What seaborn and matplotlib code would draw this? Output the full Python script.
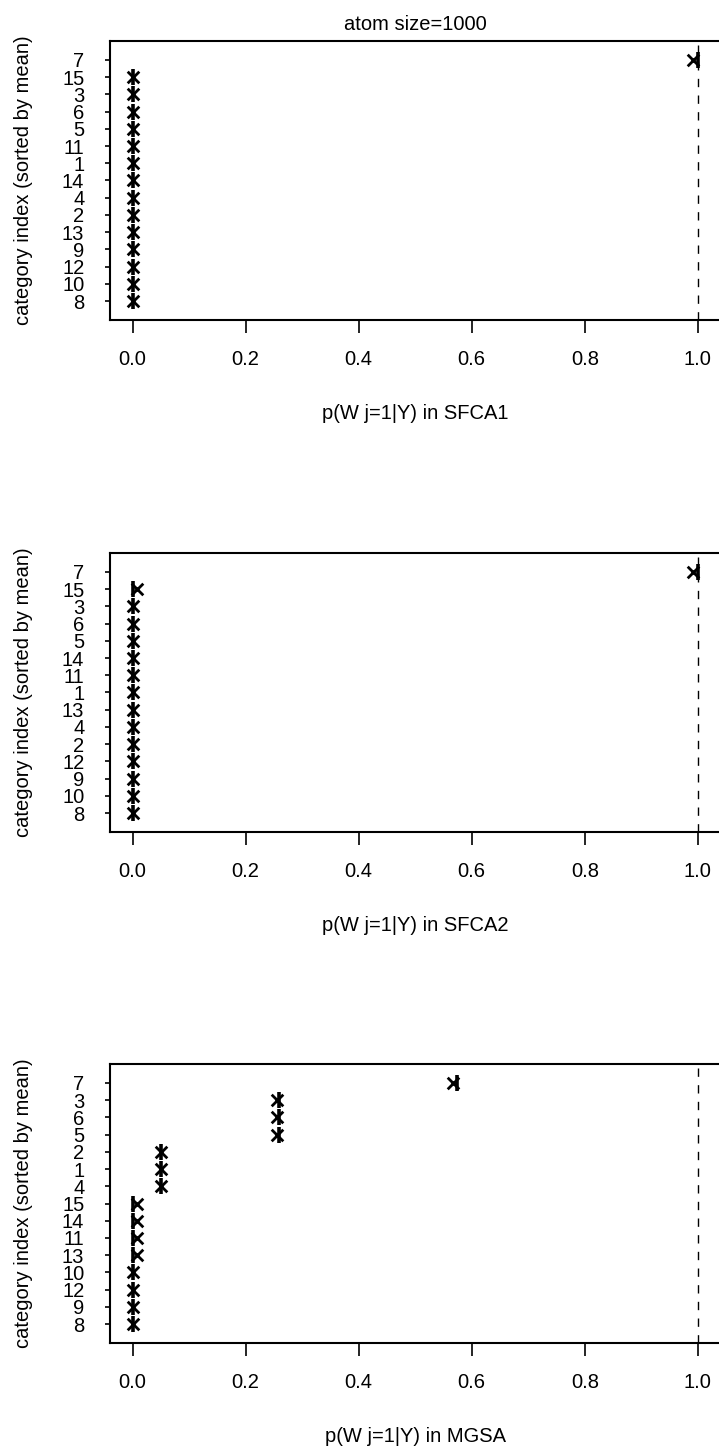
import matplotlib
matplotlib.use("Agg")
import matplotlib.pyplot as plt
import seaborn as sns
import pandas as pd

sns.set_theme(style="white")
plt.rcParams["font.family"] = ["Liberation Sans", "DejaVu Sans"]
plt.rcParams["font.size"] = 14.5

# Category order for each method, listed bottom -> top (sorted by mean)
sfca1_cats = [8, 10, 12, 9, 13, 2, 4, 14, 1, 11, 5, 6, 3, 15, 7]
sfca1_bar = [0, 0, 0, 0, 0, 0, 0, 0, 0, 0, 0, 0, 0, 0, 1.0]
sfca1_mean = [0, 0, 0, 0, 0, 0, 0, 0, 0, 0, 0, 0, 0, 0, 0.991]

sfca2_cats = [8, 10, 9, 12, 2, 4, 13, 1, 11, 14, 5, 6, 3, 15, 7]
sfca2_bar = [0, 0, 0, 0, 0, 0, 0, 0, 0, 0, 0, 0, 0, 0, 1.0]
sfca2_mean = [0, 0, 0, 0, 0, 0, 0, 0, 0, 0, 0, 0, 0, 0.007, 0.991]

mgsa_cats = [8, 9, 12, 10, 13, 11, 14, 15, 4, 1, 2, 5, 6, 3, 7]
mgsa_bar = [0, 0, 0, 0, 0, 0, 0, 0, 0.05, 0.05, 0.05, 0.259, 0.259, 0.259, 0.574]
mgsa_mean = [0, 0, 0, 0, 0.008, 0.008, 0.008, 0.008, 0.05, 0.05, 0.05,
             0.255, 0.255, 0.255, 0.566]

panels = [
    ("SFCA1", sfca1_cats, sfca1_bar, sfca1_mean),
    ("SFCA2", sfca2_cats, sfca2_bar, sfca2_mean),
    ("MGSA", mgsa_cats, mgsa_bar, mgsa_mean),
]
x_ticks = [0.0, 0.2, 0.4, 0.6, 0.8, 1.0]

fig = plt.figure(figsize=(7.19, 14.46), dpi=100)
bottoms = [0.7787, 0.4246, 0.0712]
fs = 14.5

for i, (name, cats, bars, means) in enumerate(panels):
    ax = fig.add_axes([0.153, bottoms[i], 0.849, 0.193])
    pos = list(range(1, len(cats) + 1))
    df = pd.DataFrame({"pos": pos, "bar": bars, "mean": means})

    sns.scatterplot(data=df, x="bar", y="pos", marker="|", s=125,
                    color="black", linewidth=2.6, ax=ax, zorder=3)
    sns.scatterplot(data=df, x="mean", y="pos", marker="x", s=70,
                    color="black", linewidth=2.0, ax=ax, zorder=3)

    ax.axvline(1.0, color="black", linestyle=(0, (6, 6)), linewidth=1.0,
               zorder=2)

    ax.set_xlim(-0.04, 1.04)
    ax.set_ylim(0.5 - 0.6, 15.5 + 0.6)
    ax.set_xticks(x_ticks)
    ax.set_xticklabels([f"{t:.1f}" for t in x_ticks])
    ax.set_yticks(pos)
    ax.set_yticklabels([str(c) for c in cats])

    ax.tick_params(axis="x", direction="out", length=9.5, width=1.2,
                   pad=12, labelsize=fs, bottom=True, colors="black")
    ax.tick_params(axis="y", direction="out", length=3.5, width=1.2,
                   pad=15, labelsize=fs, left=True, colors="black")
    for sp in ax.spines.values():
        sp.set_color("black")
        sp.set_linewidth(1.5)
        sp.set_visible(True)

    ax.set_xlabel(f"p(W j=1|Y) in {name}", fontsize=fs, labelpad=25,
                  color="black")
    ax.set_ylabel("category index (sorted by mean)", fontsize=fs,
                  labelpad=21, color="black")
    ax.grid(False)
    if i == 0:
        ax.set_title("atom size=1000", fontsize=fs, pad=8, color="black")

fig.savefig("out.png", dpi=100)
